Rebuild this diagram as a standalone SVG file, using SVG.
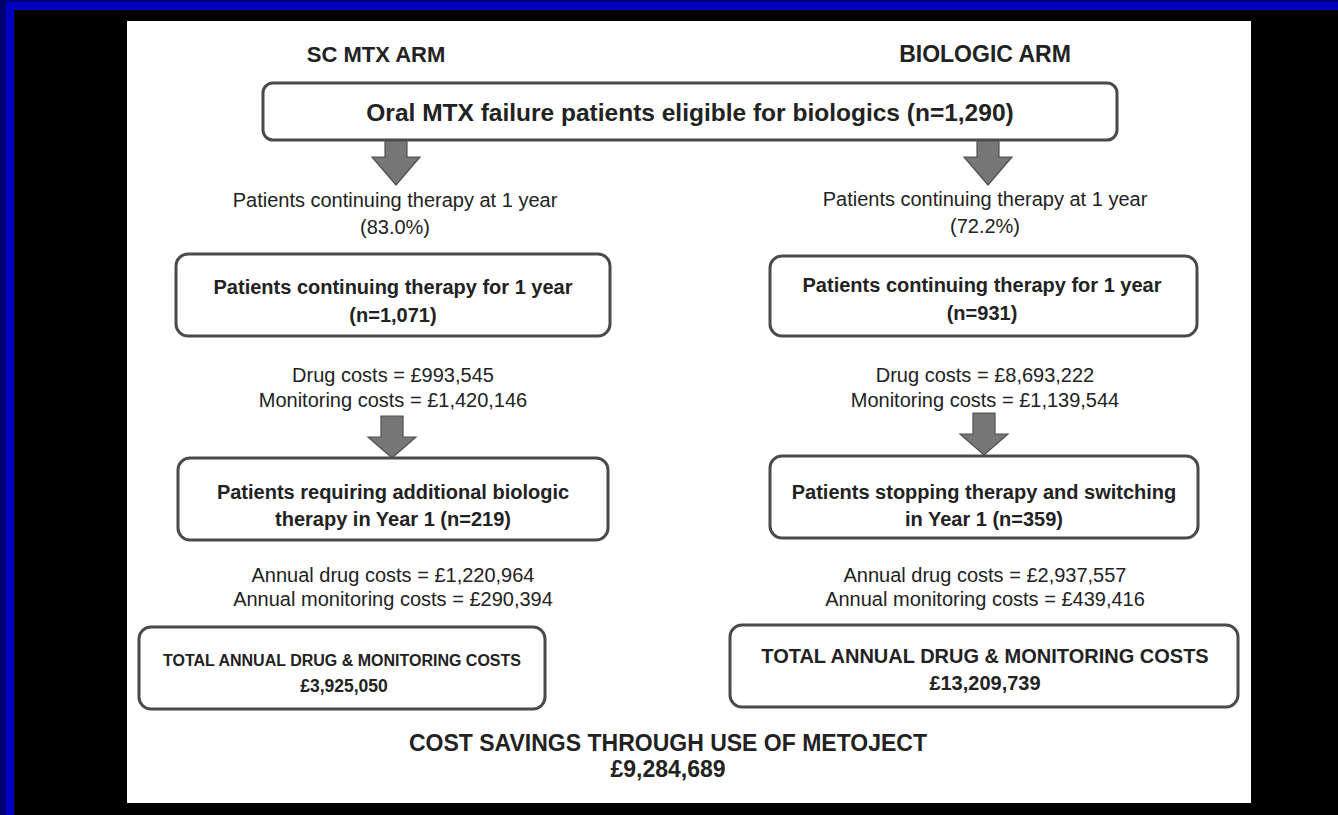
<svg xmlns="http://www.w3.org/2000/svg" width="1338" height="815" viewBox="0 0 1338 815">
  <style>
    .box { fill: #ffffff; stroke: #4a4a4a; stroke-width: 3; }
    .arrow { fill: #767676; stroke: #505050; stroke-width: 1.2; }
    text { font-family: "Liberation Sans", Arial, sans-serif; fill: #222222; text-anchor: middle; }
    .arm { font-size: 22px; font-weight: bold; }
    .title { font-size: 24.5px; font-weight: bold; }
    .bt { font-size: 20px; font-weight: bold; }
    .nt { font-size: 20px; }
    .tl { font-size: 16px; font-weight: bold; }
    .tl2 { font-size: 17.5px; font-weight: bold; }
    .tr { font-size: 20px; font-weight: bold; }
    .sav { font-size: 23px; font-weight: bold; }
  </style>

  <!-- frame -->
  <rect x="0" y="0" width="1338" height="815" fill="#000000"/>
  <rect x="0" y="0" width="1338" height="10" fill="#0000c4"/>
  <rect x="0" y="0" width="14" height="815" fill="#0000c4"/>
  <rect x="0" y="0" width="1338" height="2" fill="#00006e"/>
  <rect x="0" y="0" width="6" height="815" fill="#00006e"/>
  <rect x="127" y="21" width="1124" height="782" fill="#ffffff"/>

  <!-- arm headings -->
  <text class="arm" x="376" y="62">SC MTX ARM</text>
  <text class="arm" x="985" y="62" style="font-size:23px">BIOLOGIC ARM</text>

  <!-- connectors: block arrows -->
  <g id="connectors">
    <polygon class="arrow" points="385,140 407,140 407,157 420,157 396,185 372,157 385,157"/>
    <polygon class="arrow" points="977,140 999,140 999,157 1012,157 988,185 964,157 977,157"/>
    <polygon class="arrow" points="381,416 403,416 403,437 416,437 392,458 368,437 381,437"/>
    <polygon class="arrow" points="973,413 995,413 995,434 1008,434 984,455 960,434 973,434"/>
  </g>

  <g id="eligible">
    <rect class="box" x="263" y="83" width="854" height="57" rx="10"/>
    <text class="title" x="690" y="121">Oral MTX failure patients eligible for biologics (n=1,290)</text>
  </g>

  <g id="sc-continuing-rate">
    <text class="nt" x="395" y="207">Patients continuing therapy at 1 year</text>
    <text class="nt" x="395" y="234">(83.0%)</text>
  </g>
  <g id="bio-continuing-rate">
    <text class="nt" x="985" y="206">Patients continuing therapy at 1 year</text>
    <text class="nt" x="985" y="233">(72.2%)</text>
  </g>

  <g id="sc-continuing">
    <rect class="box" x="176" y="254" width="434" height="82" rx="12"/>
    <text class="bt" x="393" y="294">Patients continuing therapy for 1 year</text>
    <text class="bt" x="393" y="322">(n=1,071)</text>
  </g>
  <g id="bio-continuing">
    <rect class="box" x="770" y="256" width="427" height="80" rx="12"/>
    <text class="bt" x="982" y="292">Patients continuing therapy for 1 year</text>
    <text class="bt" x="982" y="320">(n=931)</text>
  </g>

  <g id="sc-costs">
    <text class="nt" x="393" y="382">Drug costs = £993,545</text>
    <text class="nt" x="393" y="407">Monitoring costs = £1,420,146</text>
  </g>
  <g id="bio-costs">
    <text class="nt" x="985" y="382">Drug costs = £8,693,222</text>
    <text class="nt" x="985" y="407">Monitoring costs = £1,139,544</text>
  </g>

  <g id="sc-additional">
    <rect class="box" x="178" y="458" width="430" height="82" rx="12"/>
    <text class="bt" x="393" y="499">Patients requiring additional biologic</text>
    <text class="bt" x="393" y="526">therapy in Year 1 (n=219)</text>
  </g>
  <g id="bio-switching">
    <rect class="box" x="770" y="456" width="428" height="82" rx="12"/>
    <text class="bt" x="984" y="499">Patients stopping therapy and switching</text>
    <text class="bt" x="984" y="526">in Year 1 (n=359)</text>
  </g>

  <g id="sc-annual">
    <text class="nt" x="393" y="582">Annual drug costs = £1,220,964</text>
    <text class="nt" x="393" y="606">Annual monitoring costs = £290,394</text>
  </g>
  <g id="bio-annual">
    <text class="nt" x="985" y="582">Annual drug costs = £2,937,557</text>
    <text class="nt" x="985" y="606">Annual monitoring costs = £439,416</text>
  </g>

  <g id="sc-total">
    <rect class="box" x="139" y="627" width="406" height="82" rx="12"/>
    <text class="tl" x="342" y="666">TOTAL ANNUAL DRUG &amp; MONITORING COSTS</text>
    <text class="tl2" x="344" y="692">£3,925,050</text>
  </g>
  <g id="bio-total">
    <rect class="box" x="730" y="625" width="508" height="82" rx="12"/>
    <text class="tr" x="985" y="663">TOTAL ANNUAL DRUG &amp; MONITORING COSTS</text>
    <text class="tr" x="985" y="690">£13,209,739</text>
  </g>

  <g id="savings">
    <text class="sav" x="668" y="751">COST SAVINGS THROUGH USE OF METOJECT</text>
    <text class="sav" x="668" y="777">£9,284,689</text>
  </g>
</svg>
